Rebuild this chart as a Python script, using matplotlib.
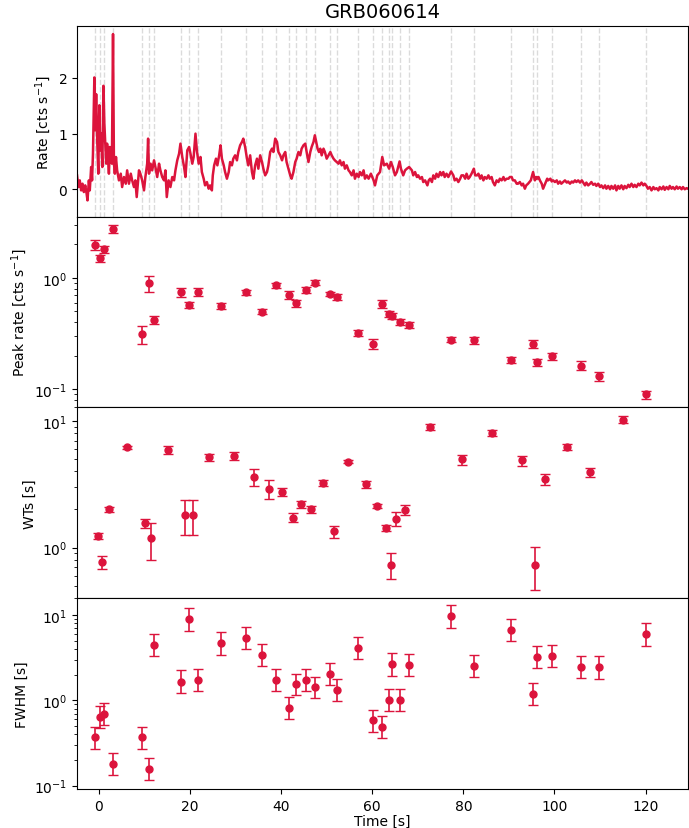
import matplotlib
matplotlib.use("Agg")
import matplotlib.pyplot as plt
import numpy as np

RED = "#dc143c"

# Light curve
lc_time = [
    -4.8, -4.5, -4.2, -3.9, -3.6, -3.3, -3.0, -2.7, -2.5, -2.2, -2.0, -1.7, -1.5, -1.3,
    -1.0, -0.8, -0.6, -0.35, -0.13, 0.1, 0.3, 0.5, 0.75, 1.0, 1.2, 1.4, 1.6, 1.8, 2.0,
    2.2, 2.4, 2.65, 2.85, 3.1, 3.3, 3.5, 3.75, 4.0, 4.4, 4.8, 5.1, 5.5, 5.9, 6.2, 6.6,
    7.0, 7.3, 7.7, 8.0, 8.3, 8.8, 9.1, 9.5, 9.9, 10.2, 10.6, 10.8, 11.0, 11.35, 11.7,
    12.1, 12.4, 12.8, 13.2, 13.5, 13.9, 14.3, 14.6, 14.9, 15.3, 15.7, 16.1, 16.5, 16.8,
    17.2, 17.6, 17.9, 18.3, 18.7, 19.0, 19.4, 19.8, 20.1, 20.5, 20.8, 21.2, 21.5, 21.9,
    22.3, 22.6, 23.0, 23.3, 23.7, 24.1, 24.4, 24.8, 25.0, 25.3, 25.7, 26.0, 26.4, 26.7,
    27.0, 27.4, 27.7, 28.1, 28.5, 28.8, 29.2, 29.5, 29.9, 30.3, 30.6, 31.0, 31.4, 31.7,
    32.1, 32.5, 32.8, 33.2, 33.6, 33.9, 34.3, 34.7, 35.0, 35.4, 35.8, 36.1, 36.5, 36.9,
    37.2, 37.6, 38.0, 38.3, 38.7, 39.1, 39.4, 39.8, 40.2, 40.5, 40.9, 41.2, 41.6, 42.0,
    42.3, 42.7, 43.1, 43.4, 43.8, 44.2, 44.5, 44.9, 45.3, 45.6, 46.0, 46.4, 46.7, 47.1,
    47.4, 47.7, 48.0, 48.3, 48.6, 48.9, 49.3, 49.6, 50.0, 50.4, 50.8, 51.1, 51.5, 51.8,
    52.2, 52.6, 52.9, 53.3, 53.7, 54.0, 54.4, 54.8, 55.1, 55.5, 55.9, 56.2, 56.6, 57.0,
    57.3, 57.7, 58.1, 58.4, 58.8, 59.2, 59.7, 60.3, 60.6, 61.1, 61.7, 62.2, 62.6, 63.2,
    63.7, 64.1, 64.5, 65.0, 65.4, 66.0, 66.3, 66.8, 67.2, 67.6, 68.1, 68.7, 69.0, 69.4,
    69.8, 70.1, 70.5, 70.9, 71.2, 71.6, 72.1, 72.4, 72.7, 73.1, 73.4, 73.8, 74.1, 74.5,
    74.9, 75.2, 75.6, 75.9, 76.3, 76.7, 77.3, 77.8, 78.1, 78.5, 78.9, 79.3, 79.6, 80.0,
    80.4, 80.7, 81.1, 81.4, 81.8, 82.3, 82.6, 83.0, 83.3, 83.7, 84.0, 84.4, 84.7, 85.1,
    85.5, 85.8, 86.2, 86.5, 86.9, 87.3, 87.7, 88.0, 88.4, 88.8, 89.1, 89.5, 89.9, 90.2,
    90.6, 90.9, 91.3, 91.7, 92.0, 92.4, 92.8, 93.1, 93.5, 93.8, 94.2, 94.5, 94.8, 95.3,
    95.7, 96.0, 96.2, 96.5, 96.8, 97.2, 97.5, 97.8, 98.1, 98.4, 98.6, 99.1, 99.4, 99.7,
    100.1, 100.5, 100.8, 101.2, 101.5, 101.9, 102.3, 102.7, 103.0, 103.4, 103.8, 104.1,
    104.5, 104.8, 105.2, 105.6, 106.0, 106.3, 106.7, 107.0, 107.4, 107.8, 108.1, 108.5,
    108.9, 109.2, 109.6, 110.0, 110.3, 110.7, 111.1, 111.4, 111.8, 112.2, 112.5, 112.9,
    113.3, 113.6, 114.0, 114.3, 114.7, 115.1, 115.4, 115.8, 116.2, 116.5, 116.9, 117.3,
    117.6, 118.0, 118.4, 118.7, 119.1, 119.5, 119.8, 120.2, 120.5, 120.9, 121.3, 121.7,
    122.0, 122.4, 122.8, 123.1, 123.5, 123.9, 124.2, 124.6, 125.0, 125.3, 125.7, 126.0,
    126.4, 126.8, 127.1, 127.5, 127.9, 128.2, 128.6, 129.0, 129.3,
]
lc_rate = [
    0.25, 0.04, 0.16, -0.02, 0.10, -0.05, 0.07, -0.08, -0.20, 0.16, -0.02, 0.40, 0.16, 0.64,
    2.01, 1.06, 1.71, 0.82, 0.28, 1.51, 0.70, 1.00, 0.40, 1.86, 1.18, 0.82, 0.46, 0.82, 0.58,
    0.28, 0.76, 0.64, 0.46, 2.79, 0.46, 0.28, 0.58, 0.34, 0.16, 0.28, 0.04, 0.22, 0.10, 0.34, 0.10,
    0.28, 0.16, 0.04, 0.16, -0.14, 0.34, 0.28, 0.16, -0.02, 0.22, 0.46, 0.91, 0.28, 0.46, 0.34,
    0.52, 0.40, 0.22, 0.46, 0.34, 0.22, 0.16, 0.34, -0.14, 0.16, 0.04, 0.22, 0.16, 0.34,
    0.52, 0.64, 0.82, 0.58, 0.40, 0.22, 0.70, 0.76, 0.64, 0.46, 0.58, 1.00, 0.70, 0.46,
    0.58, 0.31, 0.19, 0.07, 0.13, 0.01, 0.07, -0.02, 0.25, 0.43, 0.55, 0.43, 0.61, 0.79,
    0.55, 0.43, 0.31, 0.19, 0.31, 0.49, 0.43, 0.55, 0.61, 0.52, 0.67, 0.79, 0.85, 0.91,
    0.76, 0.55, 0.43, 0.61, 0.31, 0.19, 0.43, 0.55, 0.37, 0.61, 0.49, 0.37, 0.25, 0.31,
    0.43, 0.67, 0.73, 0.67, 0.91, 0.85, 0.67, 0.61, 0.52, 0.61, 0.67, 0.49, 0.37, 0.25,
    0.19, 0.31, 0.49, 0.55, 0.67, 0.61, 0.73, 0.79, 0.82, 0.67, 0.49, 0.67, 0.76, 0.85,
    0.97, 0.85, 0.73, 0.67, 0.73, 0.61, 0.73, 0.67, 0.55, 0.61, 0.67, 0.61, 0.55, 0.52,
    0.49, 0.46, 0.52, 0.43, 0.49, 0.37, 0.43, 0.34, 0.31, 0.25, 0.34, 0.19, 0.28, 0.22,
    0.31, 0.25, 0.34, 0.19, 0.25, 0.19, 0.28, 0.16, 0.07, 0.25, 0.31, 0.58, 0.43, 0.46,
    0.37, 0.49, 0.40, 0.25, 0.31, 0.50, 0.37, 0.25, 0.34, 0.37, 0.40, 0.34, 0.25, 0.31,
    0.22, 0.25, 0.19, 0.22, 0.13, 0.16, 0.07, 0.16, 0.19, 0.13, 0.25, 0.19, 0.28, 0.22,
    0.31, 0.25, 0.31, 0.22, 0.28, 0.22, 0.32, 0.25, 0.16, 0.19, 0.13, 0.19, 0.25, 0.25,
    0.19, 0.28, 0.19, 0.22, 0.28, 0.37, 0.25, 0.25, 0.28, 0.19, 0.25, 0.16, 0.22, 0.19,
    0.25, 0.19, 0.22, 0.13, 0.07, 0.16, 0.13, 0.19, 0.16, 0.22, 0.16, 0.19, 0.19, 0.22,
    0.22, 0.16, 0.16, 0.10, 0.10, 0.13, 0.07, 0.10, 0.01, 0.07, 0.10, 0.13, 0.16, 0.31,
    0.16, 0.22, 0.19, 0.22, 0.16, 0.10, 0.01, 0.07, 0.13, 0.19, 0.16, 0.19, 0.14, 0.16,
    0.13, 0.16, 0.10, 0.14, 0.10, 0.13, 0.16, 0.12, 0.14, 0.10, 0.14, 0.12,
    0.16, 0.13, 0.16, 0.12, 0.16, 0.12, 0.07, 0.12, 0.07, 0.10, 0.13, 0.08,
    0.10, 0.06, 0.10, 0.04, 0.07, 0.02, 0.07, 0.01, 0.06, 0.00, 0.06, 0.01,
    0.07, -0.02, 0.06, 0.01, 0.07, 0.00, 0.06, 0.02, 0.08, 0.04, 0.10, 0.04,
    0.08, 0.04, 0.10, 0.07, 0.12, 0.07, 0.10, 0.06, 0.01, 0.04, -0.02, 0.04,
    0.00, 0.02, -0.02, 0.04, 0.00, 0.05, -0.01, 0.04, 0.00, 0.06, 0.01, 0.04,
    0.00, 0.05, 0.01, 0.04, 0.00, 0.04, 0.00, 0.02, 0.01,
]

# Pulse peak times [s], peak rates and FWHM
peak_time = [
    -0.86, 0.30, 1.10, 3.16, 9.37, 10.98, 12.08, 18.07, 19.82, 21.70, 26.84, 32.25,
    35.90, 38.80, 41.70, 43.30, 45.55, 47.50, 50.80, 52.20, 56.96, 60.10, 62.20, 63.70,
    64.40, 66.20, 68.10, 77.30, 82.26, 90.44, 95.26, 96.14, 99.50, 105.86, 109.80, 120.10,
]
peak_rate = [
    1.99, 1.50, 1.81, 2.76, 0.312, 0.90, 0.42, 0.743, 0.572, 0.746, 0.564, 0.743,
    0.499, 0.86, 0.708, 0.592, 0.785, 0.908, 0.718, 0.675, 0.32, 0.257, 0.587, 0.472,
    0.453, 0.405, 0.38, 0.279, 0.277, 0.185, 0.257, 0.176, 0.199, 0.163, 0.131, 0.090,
]
peak_rate_err = [
    0.21, 0.12, 0.13, 0.21, 0.057, 0.15, 0.035, 0.065, 0.034, 0.063, 0.035, 0.039,
    0.024, 0.04, 0.06, 0.04, 0.045, 0.047, 0.035, 0.04, 0.019, 0.029, 0.048, 0.03,
    0.027, 0.024, 0.023, 0.014, 0.02, 0.011, 0.022, 0.013, 0.014, 0.015, 0.013, 0.0075,
]
fwhm = [
    0.37, 0.63, 0.70, 0.179, 0.37, 0.157, 4.5, 1.66, 8.95, 1.75, 4.66, 5.4,
    3.43, 1.75, 0.81, 1.55, 1.75, 1.42, 2.04, 1.32, 4.14, 0.585, 0.48, 1.0,
    2.66, 1.02, 2.61, 9.7, 2.54, 6.7, 1.19, 3.22, 3.31, 2.45, 2.43, 5.95,
]
fwhm_lo = [
    0.27, 0.47, 0.52, 0.132, 0.27, 0.117, 3.3, 1.22, 6.6, 1.29, 3.45, 4.0,
    2.54, 1.29, 0.60, 1.15, 1.29, 1.06, 1.52, 0.98, 3.07, 0.43, 0.36, 0.74,
    1.95, 0.75, 1.93, 7.1, 1.87, 4.97, 0.88, 2.39, 2.45, 1.82, 1.80, 4.4,
]
fwhm_hi = [
    0.49, 0.85, 0.94, 0.24, 0.49, 0.21, 6.0, 2.24, 12.0, 2.34, 6.3, 7.2,
    4.58, 2.35, 1.09, 2.06, 2.35, 1.9, 2.76, 1.78, 5.5, 0.78, 0.65, 1.35,
    3.55, 1.37, 3.5, 13.0, 3.4, 8.95, 1.6, 4.3, 4.45, 3.3, 3.28, 8.0,
]

# Waiting times, placed between consecutive peaks
wt_time = [
    -0.28, 0.70, 2.13, 6.27, 10.18, 11.53, 15.07, 18.95, 20.76, 24.27, 29.55, 34.07,
    37.35, 40.25, 42.50, 44.43, 46.53, 49.15, 51.50, 54.58, 58.53, 61.15, 62.95, 64.05,
    65.30, 67.15, 72.70, 79.78, 86.35, 92.85, 95.70, 97.82, 102.68, 107.83, 114.95,
]
wt = [
    1.24, 0.764, 2.0, 6.17, 1.56, 1.18, 5.89, 1.81, 1.81, 5.18, 5.3, 3.61,
    2.92, 2.76, 1.72, 2.19, 2.0, 3.24, 1.34, 4.77, 3.18, 2.13, 1.43, 0.733,
    1.69, 1.98, 9.01, 4.96, 8.07, 4.87, 0.733, 3.46, 6.22, 3.94, 10.2,
]
wt_err = [
    0.07, 0.09, 0.075, 0.2, 0.13, 0.385, 0.41, 0.55, 0.55, 0.33, 0.43, 0.55,
    0.52, 0.22, 0.14, 0.145, 0.115, 0.15, 0.14, 0.12, 0.2, 0.09, 0.07, 0.173,
    0.21, 0.175, 0.5, 0.46, 0.47, 0.43, 0.27, 0.33, 0.3, 0.33, 0.65,
]

fig, axes = plt.subplots(4, 1, sharex=True, figsize=(6.89, 8.29), dpi=100)
fig.subplots_adjust(left=0.1118, right=0.9985, top=0.9678, bottom=0.047, hspace=0)
ax_lc, ax_pr, ax_wt, ax_fw = axes

# --- light curve + peak markers ---
for t in peak_time:
    ax_lc.axvline(t, color="lightgray", ls="--", lw=1, alpha=0.8, zorder=0)
ax_lc.plot(lc_time, lc_rate, color=RED, lw=1.8)
ax_lc.set_ylim(-0.49, 2.94)
ax_lc.set_yticks([0, 1, 2])
ax_lc.set_ylabel("Rate [cts s$^{-1}$]")
ax_lc.set_title("GRB060614", fontsize=14)

err_kw = dict(fmt="o", color=RED, ecolor=RED, ms=5, capsize=3.5, elinewidth=1.2)

# --- peak rate ---
ax_pr.errorbar(peak_time, peak_rate, yerr=peak_rate_err, **err_kw)
ax_pr.set_yscale("log")
ax_pr.set_ylim(0.0689, 3.56)
ax_pr.set_ylabel("Peak rate [cts s$^{-1}$]")

# --- waiting times ---
ax_wt.errorbar(wt_time, wt, yerr=wt_err, **err_kw)
ax_wt.set_yscale("log")
ax_wt.set_ylim(0.398, 12.8)
ax_wt.set_ylabel("WTs [s]")

# --- FWHM ---
fw = np.array(fwhm)
fw_err = [fw - np.array(fwhm_lo), np.array(fwhm_hi) - fw]
ax_fw.errorbar(peak_time, fwhm, yerr=fw_err, **err_kw)
ax_fw.set_yscale("log")
ax_fw.set_ylim(0.091, 15.8)
ax_fw.set_ylabel("FWHM [s]")
ax_fw.set_xlabel("Time [s]", labelpad=1)

ax_fw.set_xlim(-4.8, 129.3)
ax_fw.set_xticks([0, 20, 40, 60, 80, 100, 120])

fig.savefig("out.png", dpi=100)
